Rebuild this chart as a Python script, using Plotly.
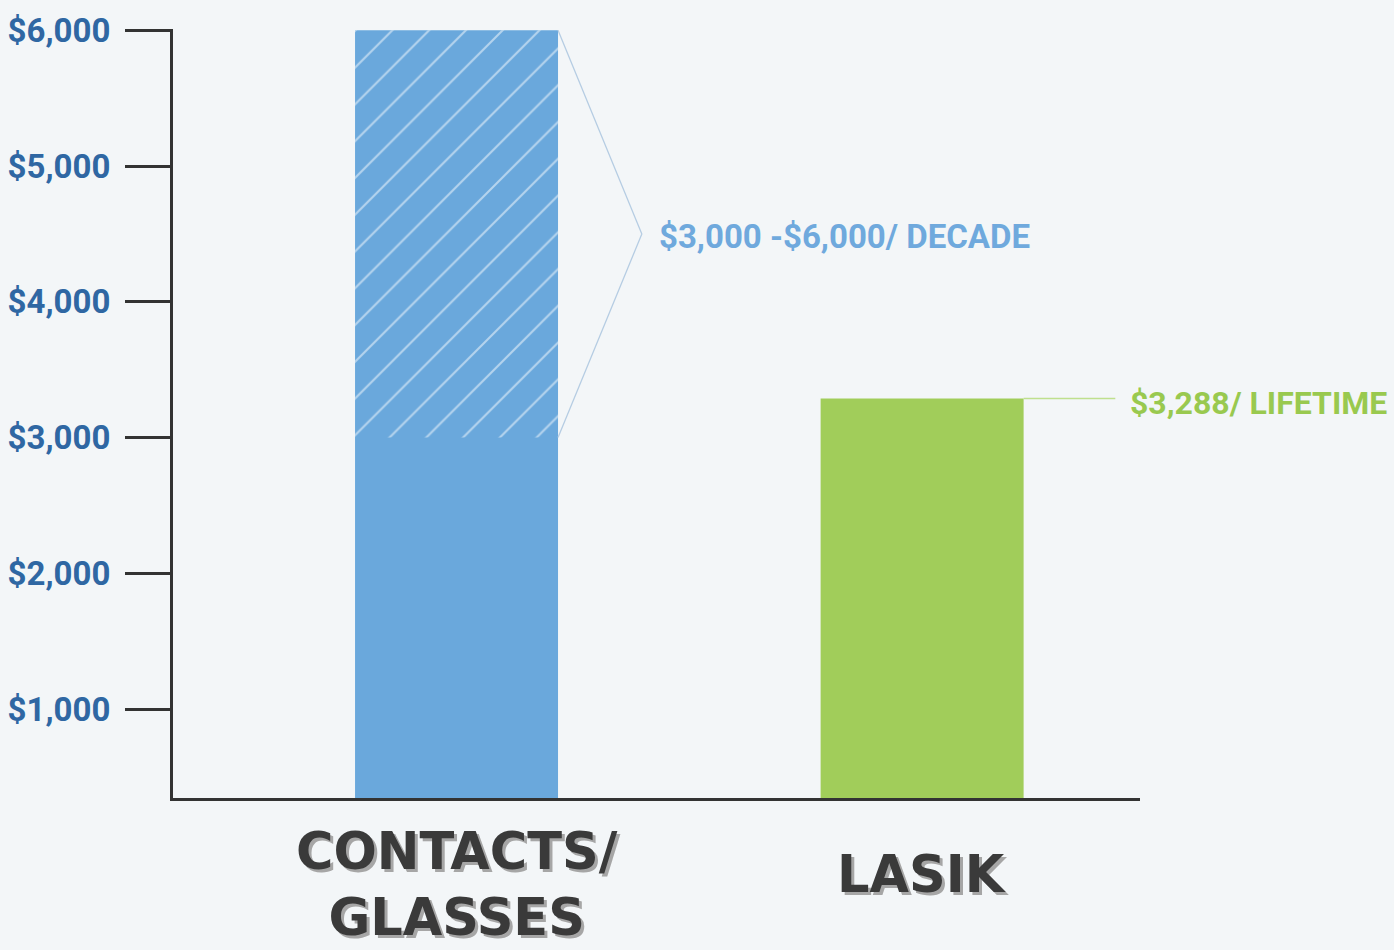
import plotly.graph_objects as go

# ---- data ----
categories = ["CONTACTS/GLASSES", "LASIK"]
category_labels = ["CONTACTS/<br>GLASSES", "LASIK"]
contacts_low = 3000
contacts_high = 6000
lasik_cost = 3288
tick_values = [1000, 2000, 3000, 4000, 5000, 6000]
tick_labels = ["$1,000", "$2,000", "$3,000", "$4,000", "$5,000", "$6,000"]
decade_label = "$3,000 -$6,000/ DECADE"
lifetime_label = "$3,288/ LIFETIME"

BLUE = "#6aa8dc"
GREEN = "#a1cd5a"
BG = "#f3f6f8"
AXIS = "#333333"
TICKBLUE = "#2f67a3"
BAR_W = 0.436

fig = go.Figure()

# full contacts bar (solid)
fig.add_trace(go.Bar(
    x=[0], y=[contacts_high], width=BAR_W,
    marker=dict(color=BLUE, line=dict(width=0)),
    hoverinfo="skip", showlegend=False,
))
# hatched upper part of contacts bar (range)
fig.add_trace(go.Bar(
    x=[0], y=[contacts_high - contacts_low], base=[contacts_low], width=BAR_W,
    marker=dict(color="rgba(0,0,0,0)", line=dict(width=0),
                pattern=dict(shape="/", fgcolor="#ffffff", bgcolor="rgba(0,0,0,0)",
                             fgopacity=0.5, size=26, solidity=0.08)),
    hoverinfo="skip", showlegend=False,
))
# lasik bar
fig.add_trace(go.Bar(
    x=[1], y=[lasik_cost], width=BAR_W,
    marker=dict(color=GREEN, line=dict(width=0)),
    hoverinfo="skip", showlegend=False,
))

# bracket for the contacts range
edge0 = 0 + BAR_W / 2
fig.add_trace(go.Scatter(
    x=[edge0, edge0 + 0.18, edge0],
    y=[contacts_high, (contacts_high + contacts_low) / 2, contacts_low],
    mode="lines", line=dict(color="#b6cde3", width=1.3),
    hoverinfo="skip", showlegend=False, cliponaxis=False,
))
# leader line for lasik
edge1 = 1 + BAR_W / 2
fig.add_trace(go.Scatter(
    x=[edge1, edge1 + 0.197],
    y=[lasik_cost, lasik_cost],
    mode="lines", line=dict(color="#bfe08e", width=1.5),
    hoverinfo="skip", showlegend=False, cliponaxis=False,
))

cond_font = "Roboto, Liberation Sans, sans-serif"

fig.add_annotation(
    x=edge0 + 0.213, y=(contacts_high + contacts_low) / 2, xref="x", yref="y",
    text=decade_label, showarrow=False, xanchor="left", yanchor="middle",
    yshift=-3,
    font=dict(family=cond_font, size=33, color="#6fa9dd", weight="bold"),
)
fig.add_annotation(
    x=edge1 + 0.225, y=lasik_cost, xref="x", yref="y",
    text=lifetime_label, showarrow=False, xanchor="left", yanchor="middle",
    yshift=-4,
    font=dict(family=cond_font, size=32, color="#99c94f", weight="bold"),
)

# category labels
label_y = [-0.113, -0.1]
for i, lab in enumerate(category_labels):
    fig.add_annotation(
        x=i, y=label_y[i], xref="x", yref="paper",
        text=lab, showarrow=False, xanchor="center", yanchor="middle",
        font=dict(family="DejaVu Sans, sans-serif", size=51, color="#3a3a3a",
                  weight="bold", shadow="3px 3px 0px #a6a6a6"),
        align="center",
    )

fig.update_layout(
    width=1394, height=950,
    paper_bgcolor=BG, plot_bgcolor=BG,
    margin=dict(l=173, r=254, t=29, b=152, autoexpand=False),
    barmode="overlay",
    showlegend=False,
    xaxis=dict(
        range=[-0.609, 1.468], showgrid=False, zeroline=False,
        showline=True, linecolor=AXIS, linewidth=3,
        showticklabels=False, ticks="", automargin=False,
        tickvals=[0, 1],
    ),
    yaxis=dict(
        range=[345, 6010], showgrid=False, zeroline=False,
        showline=True, linecolor=AXIS, linewidth=3, automargin=False,
        tickvals=tick_values, ticktext=tick_labels,
        ticks="outside", ticklen=45, tickwidth=3, tickcolor=AXIS,
        ticklabelstandoff=8,
        tickfont=dict(family=cond_font, size=33, color=TICKBLUE, weight="bold"),
    ),
)

fig.write_html(
    "out.html",
    config={"displayModeBar": False},
    post_script="document.body.style.margin='0';document.body.style.overflow='hidden';",
)
